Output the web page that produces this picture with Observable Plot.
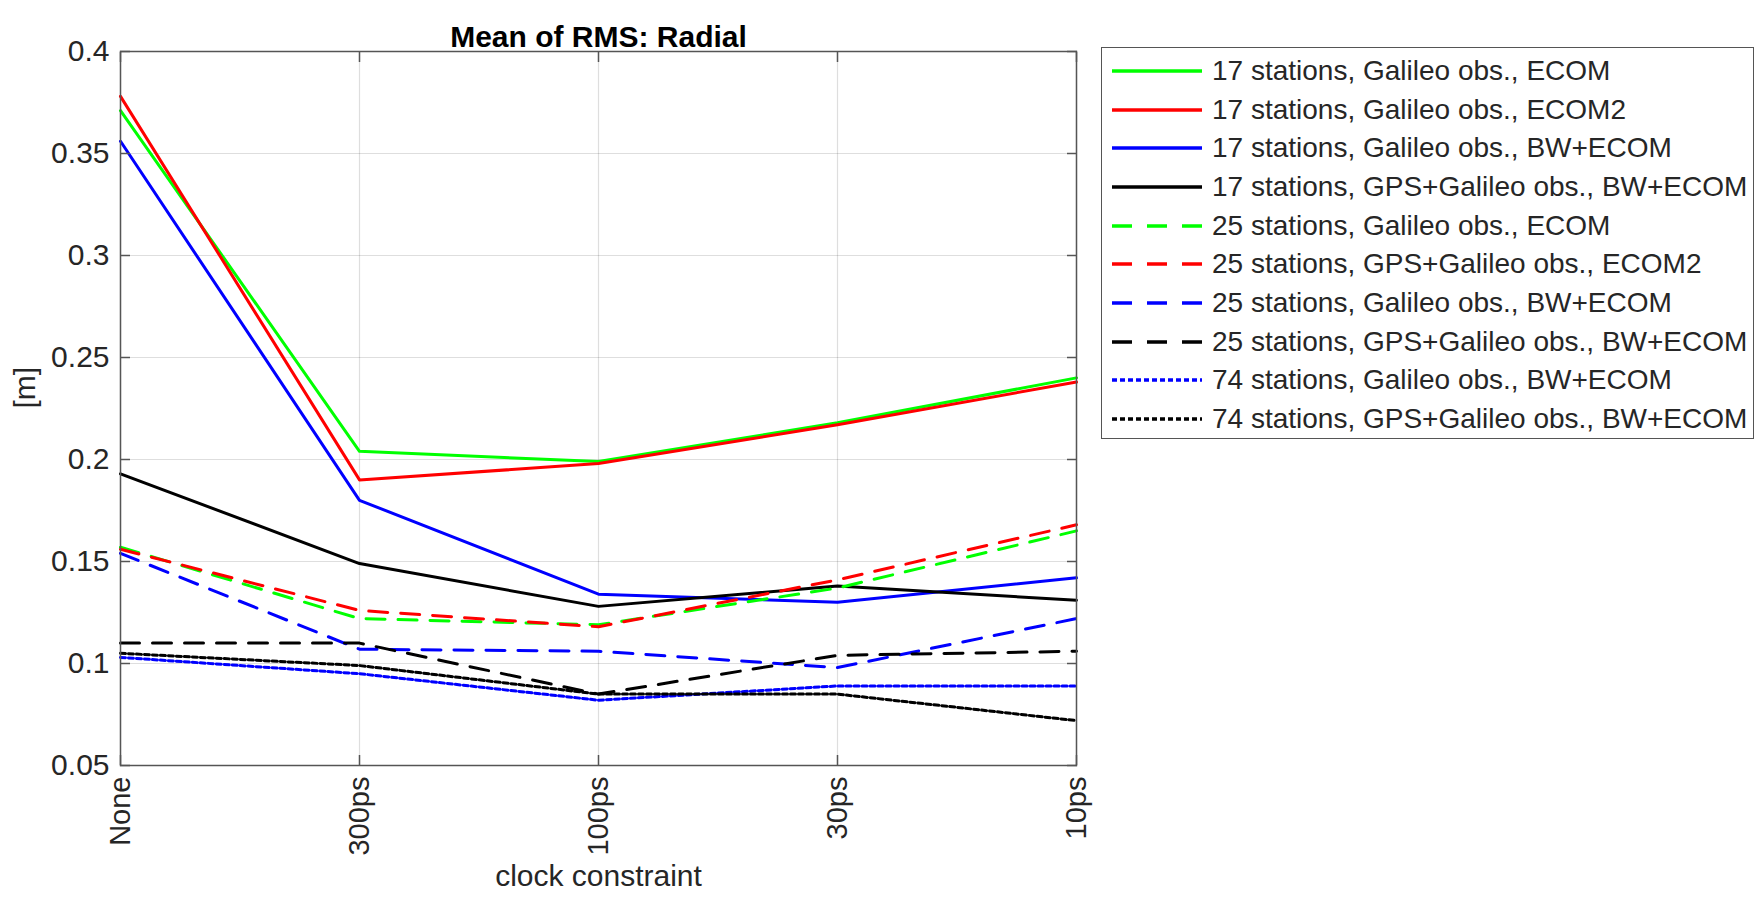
<!DOCTYPE html>
<html>
<head>
<meta charset="utf-8">
<script src="https://cdn.jsdelivr.net/npm/d3@7"></script>
<script src="https://cdn.jsdelivr.net/npm/@observablehq/plot@0.6"></script>
<style>
  html, body { margin: 0; padding: 0; background: #fff; }
  #wrap { position: relative; width: 1762px; height: 898px; overflow: hidden; }
  #legend { position: absolute; left: 1101px; top: 47px; width: 653px; height: 392px;
            border: 1.5px solid #555; box-sizing: border-box; background: #fff;
            font-family: "Liberation Sans", Arial, sans-serif; font-size: 28px; color: #262626; }
  .row { position: absolute; left: 0; height: 38px; display: flex; align-items: center; white-space: nowrap; }
  .row svg { margin-left: 10px; margin-right: 10px; }
</style>
</head>
<body>
<div id="wrap"><div id="chart"></div><div id="legend"></div></div>
<script>
const categories = ["None", "300ps", "100ps", "30ps", "10ps"];
const seriesNames = [
  "17 stations, Galileo obs., ECOM",
  "17 stations, Galileo obs., ECOM2",
  "17 stations, Galileo obs., BW+ECOM",
  "17 stations, GPS+Galileo obs., BW+ECOM",
  "25 stations, Galileo obs., ECOM",
  "25 stations, GPS+Galileo obs., ECOM2",
  "25 stations, Galileo obs., BW+ECOM",
  "25 stations, GPS+Galileo obs., BW+ECOM",
  "74 stations, Galileo obs., BW+ECOM",
  "74 stations, GPS+Galileo obs., BW+ECOM"
];
const seriesColors = ["#00ff00", "#ff0000", "#0000ff", "#000000", "#00ff00", "#ff0000", "#0000ff", "#000000", "#0000ff", "#000000"];
const seriesStyles = ["solid", "solid", "solid", "solid", "dashed", "dashed", "dashed", "dashed", "dotted", "dotted"];

const s17GalEcom   = [0.371, 0.204, 0.199, 0.218, 0.240];
const s17GalEcom2  = [0.378, 0.190, 0.198, 0.217, 0.238];
const s17GalBw     = [0.356, 0.180, 0.134, 0.130, 0.142];
const s17GpsGalBw  = [0.193, 0.149, 0.128, 0.138, 0.131];
const s25GalEcom   = [0.157, 0.122, 0.119, 0.137, 0.165];
const s25GpsEcom2  = [0.156, 0.126, 0.118, 0.141, 0.168];
const s25GalBw     = [0.154, 0.107, 0.106, 0.098, 0.122];
const s25GpsGalBw  = [0.110, 0.110, 0.085, 0.104, 0.106];
const s74GalBw     = [0.103, 0.095, 0.082, 0.089, 0.089];
const s74GpsGalBw  = [0.105, 0.099, 0.085, 0.085, 0.072];
const seriesValues = [s17GalEcom, s17GalEcom2, s17GalBw, s17GpsGalBw, s25GalEcom, s25GpsEcom2, s25GalBw, s25GpsGalBw, s74GalBw, s74GpsGalBw];

const yTicks = [0.05, 0.1, 0.15, 0.2, 0.25, 0.3, 0.35, 0.4];

const dashFor = {solid: null, dashed: "19,13", dotted: "5,3"};
const legendDash = {solid: null, dashed: "20,15", dotted: "5,3"};

const lineMarks = seriesValues.map((vals, i) =>
  Plot.line(categories.map((c, j) => ({x: c, y: vals[j]})), {
    x: "x", y: "y",
    stroke: seriesColors[i], strokeWidth: 3,
    strokeDasharray: dashFor[seriesStyles[i]] ?? undefined
  })
);

const axisColor = "#262626";
const fmt = d => String(d);

const plot = Plot.plot({
  width: 1762, height: 898,
  marginLeft: 120, marginRight: 686, marginTop: 51, marginBottom: 133,
  style: {fontFamily: "'Liberation Sans', Arial, sans-serif", fontSize: "30px", color: axisColor, background: "white"},
  x: {type: "point", domain: categories, padding: 0},
  y: {domain: [0.05, 0.4]},
  marks: [
    Plot.gridX(categories, {stroke: "#000", strokeOpacity: 0.13, strokeWidth: 1.2}),
    Plot.gridY(yTicks, {stroke: "#000", strokeOpacity: 0.13, strokeWidth: 1.2}),
    ...lineMarks,
    Plot.frame({stroke: "#555", strokeWidth: 1.5}),
    Plot.axisY(yTicks, {anchor: "left", tickSize: 0, tickPadding: 11, tickFormat: fmt, label: null, fill: axisColor}),
    Plot.axisY(yTicks, {anchor: "left", tickSize: -10, fill: "none", label: null, stroke: "#555", strokeWidth: 1.5}),
    Plot.axisY(yTicks, {anchor: "right", tickSize: -10, fill: "none", label: null, stroke: "#555", strokeWidth: 1.5}),
    Plot.axisX(categories, {anchor: "bottom", tickSize: 0, tickPadding: 11, tickRotate: -90, label: null, fill: axisColor, fontSize: 29}),
    Plot.axisX(categories, {anchor: "bottom", tickSize: -10, fill: "none", label: null, stroke: "#555", strokeWidth: 1.5}),
    Plot.axisX(categories, {anchor: "top", tickSize: -10, fill: "none", label: null, stroke: "#555", strokeWidth: 1.5}),
    Plot.text(["Mean of RMS: Radial"], {frameAnchor: "top", dy: -26, fontWeight: "bold", fontSize: 30, fill: "#000"}),
    Plot.text(["clock constraint"], {frameAnchor: "bottom", dy: 120, fontSize: 30, fill: axisColor}),
    Plot.text(["[m]"], {frameAnchor: "left", dx: -95, rotate: -90, fontSize: 30, fill: axisColor})
  ]
});
document.getElementById("chart").appendChild(plot);

// legend
const legend = document.getElementById("legend");
seriesNames.forEach((name, i) => {
  const row = document.createElement("div");
  row.className = "row";
  row.style.top = (4 + i * 38.67) + "px";
  const dash = legendDash[seriesStyles[i]];
  row.innerHTML = `<svg width="90" height="10"><line x1="0" y1="5" x2="90" y2="5" stroke="${seriesColors[i]}" stroke-width="3.5" ${dash ? `stroke-dasharray="${dash}"` : ""}/></svg><span>${name}</span>`;
  legend.appendChild(row);
});
</script>
</body>
</html>
